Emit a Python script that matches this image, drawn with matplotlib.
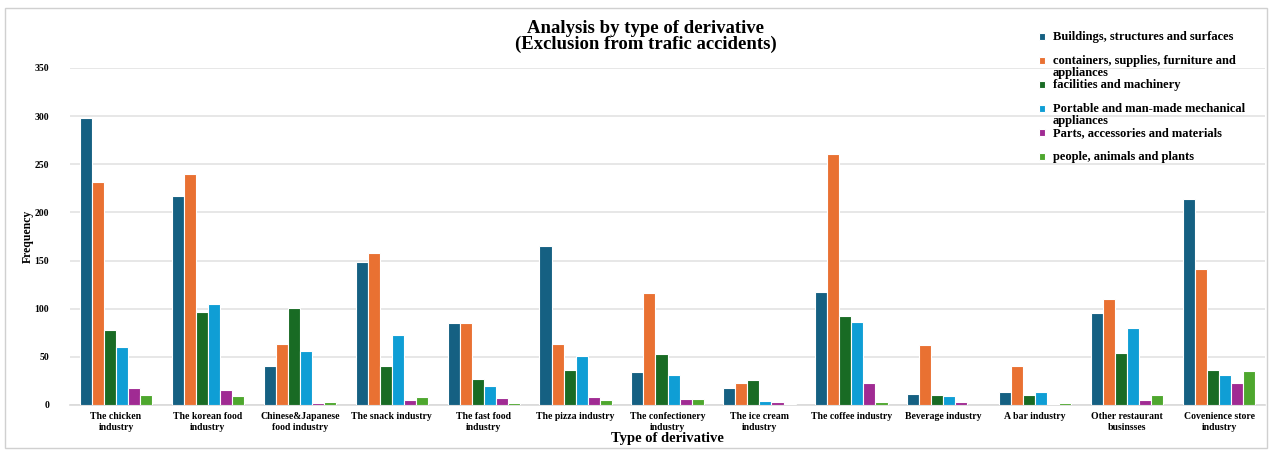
import numpy as np
import matplotlib
matplotlib.use("Agg")
from matplotlib import pyplot as plt
from matplotlib.patches import Rectangle
from matplotlib.legend_handler import HandlerPatch

plt.rcParams['font.family'] = ['Liberation Serif', 'DejaVu Serif']
plt.rcParams['font.weight'] = 'bold'

industries = ["The chicken\nindustry", "The korean food\nindustry", "Chinese&Japanese\nfood industry",
              "The snack industry", "The fast food\nindustry", "The pizza industry",
              "The confectionery\nindustry", "The ice cream\nindustry", "The coffee industry",
              "Beverage industry", "A bar industry", "Other restaurant\nbusinsses",
              "Covenience store\nindustry"]

series_names = ["Buildings, structures and surfaces",
                "containers, supplies, furniture and\nappliances",
                "facilities and machinery",
                "Portable and man-made mechanical\nappliances",
                "Parts, accessories and materials",
                "people, animals and plants"]

buildings = [298, 217, 41, 148, 85, 165, 34, 18, 117, 11, 13, 96, 214]
containers = [232, 240, 63, 158, 85, 63, 116, 23, 261, 62, 41, 110, 141]
facilities = [78, 97, 101, 40, 27, 36, 53, 26, 92, 10, 10, 54, 36]
portable = [60, 105, 56, 73, 20, 51, 31, 4, 86, 9, 13, 80, 31]
parts = [18, 16, 2, 5, 7, 8, 6, 3, 23, 3, 1, 5, 23]
people = [10, 9, 3, 8, 2, 5, 6, 1, 3, 0, 2, 10, 35]

colors = ["#156082", "#E97132", "#196B24", "#0F9ED5", "#A02B93", "#4EA72E"]

all_series = [buildings, containers, facilities, portable, parts, people]


def raised_box(legend, orig_handle, xdescent, ydescent, width, height, fontsize):
    # every label takes two lines, keep the square next to the first one
    return Rectangle((-xdescent, -ydescent + 5.0), width, height)


fig = plt.figure(figsize=(12.71, 4.5), dpi=100)
ax = fig.add_axes([0.0551, 0.1, 0.9402, 0.749])

x = np.arange(len(industries))
w = 0.131
bars = []
for j, vals in enumerate(all_series):
    b = ax.bar(x + (j - 2.5) * w, vals, width=w, color=colors[j],
               edgecolor='white', linewidth=0.8, zorder=3)
    bars.append(b)

ax.set_xlim(-0.5, 12.5)
ax.set_ylim(0, 350)
ax.set_yticks(range(0, 351, 50))
ax.grid(axis='y', color='#e3e3e3', linewidth=1.2, zorder=0)
for s in ['top', 'right', 'left']:
    ax.spines[s].set_visible(False)
ax.spines['bottom'].set_color('#d9d9d9')
ax.spines['bottom'].set_linewidth(1.2)
ax.tick_params(axis='both', length=0)
ax.tick_params(axis='y', pad=15, labelsize=7)
ax.set_xticks(x)
ax.set_xticklabels(industries, fontsize=7, linespacing=1.3)
ax.tick_params(axis='x', pad=5)

ax.set_ylabel("Frequency", fontsize=8.5, fontweight='bold')
ax.yaxis.set_label_coords(-0.030, 0.5)
ax.set_xlabel("Type of derivative", fontsize=10.5, fontweight='bold', labelpad=0)

fig.suptitle("Analysis by type of derivative\n(Exclusion from trafic accidents)",
             x=0.508, y=0.955, fontsize=13.5, fontweight='bold', linespacing=0.9)

# pad the one-line labels to two lines so all entries sit on the same pitch
labels = [n if "\n" in n else n + "\n " for n in series_names]
leg = fig.legend(handles=[b.patches[0] for b in bars], labels=labels, loc='upper left',
                 bbox_to_anchor=(0.809, 0.956), frameon=False, fontsize=9,
                 handlelength=0.45, handleheight=0.45, handletextpad=0.6,
                 labelspacing=0.0,
                 handler_map={Rectangle: HandlerPatch(patch_func=raised_box)})
for t in leg.get_texts():
    t.set_linespacing(1.0)

fig.patches.append(Rectangle((0.004, 0.004), 0.993, 0.978, transform=fig.transFigure,
                             fill=False, edgecolor='#d0d0d0', linewidth=1))

fig.savefig("out.png", dpi=100)
